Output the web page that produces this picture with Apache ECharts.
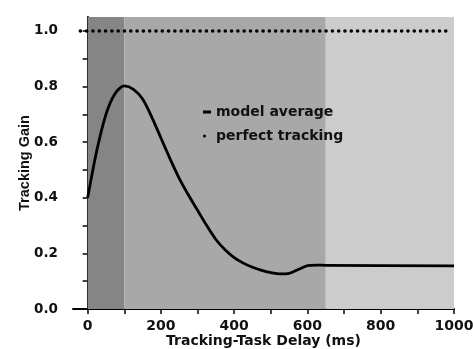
<!DOCTYPE html>
<html lang="en">
<head>
    <meta charset="UTF-8">
    <title>Tracking Gain</title>
    <script src="https://cdn.jsdelivr.net/npm/echarts@6/dist/echarts.min.js"></script>
    <style>
        body { margin: 0; background: #fff; }
    </style>
</head>
<body>
<div id="main" style="width: 473px;height:349px;"></div>
<script type="text/javascript">
    // model average curve (delay ms, gain)
    const delays = [0, 25, 50, 75, 100, 125, 150, 175, 200, 225, 250, 275, 300, 325, 350, 375, 400, 425, 450, 475, 500, 525, 550, 575, 600, 625, 650, 1000]
    const gains = [0.40, 0.57, 0.70, 0.775, 0.802, 0.79, 0.755, 0.69, 0.615, 0.54, 0.47, 0.41, 0.355, 0.30, 0.25, 0.213, 0.185, 0.165, 0.15, 0.139, 0.131, 0.126, 0.128, 0.142, 0.156, 0.158, 0.157, 0.155]
    // perfect tracking reference line
    const perfectX = [-20, 990]
    const perfectY = [1.0, 1.0]
    // shaded delay bands
    const bands = [[0, 100], [100, 650], [650, 1000]]
    const bandColors = ['#858585', '#a8a8a8', '#cccccc']
    const xLabels = [0, 200, 400, 600, 800, 1000]
    const xTicks = [0, 100, 200, 300, 400, 500, 600, 700, 800, 900, 1000]
    const yLabels = [0, 0.2, 0.4, 0.6, 0.8, 1.0]
    const yTicks = [0, 0.1, 0.2, 0.3, 0.4, 0.5, 0.6, 0.7, 0.8, 0.9, 1.0]

    const font = "'DejaVu Sans', sans-serif"
    const fontV = "'Liberation Sans', Arial, sans-serif"

    let myChart = echarts.init(document.getElementById('main'))
    let option = {
        animation: false,
        grid: {left: 73, right: 19, top: 17, bottom: 40, containLabel: false, outerBoundsMode: 'none'},
        legend: [
            {
                data: ['model average'],
                icon: 'rect',
                left: 198, top: 100,
                itemWidth: 8, itemHeight: 3,
                textStyle: {fontFamily: font, fontWeight: 'bold', fontSize: 14, color: '#111'}
            },
            {
                data: ['perfect tracking'],
                icon: 'circle',
                left: 198, top: 124,
                itemWidth: 3, itemHeight: 3,
                textStyle: {fontFamily: font, fontWeight: 'bold', fontSize: 14, color: '#111', padding: [0, 0, 0, 5]}
            }
        ],
        xAxis: {
            type: 'value',
            min: -40, max: 1000,
            name: 'Tracking-Task Delay (ms)',
            nameLocation: 'middle',
            nameGap: 25,
            nameMoveOverlap: false,
            nameTextStyle: {fontFamily: font, fontWeight: 'bold', fontSize: 14, color: '#111'},
            splitLine: {show: false},
            axisLine: {onZero: false, lineStyle: {color: '#000', width: 2}},
            axisTick: {customValues: xTicks, length: 5, lineStyle: {color: '#000', width: 1.5}},
            axisLabel: {
                customValues: xLabels, margin: 10,
                fontFamily: font, fontWeight: 'bold', fontSize: 14, color: '#111',
                formatter: (v) => String(v)
            }
        },
        yAxis: {
            type: 'value',
            min: 0, max: 1.05,
            name: 'Tracking Gain',
            nameLocation: 'middle',
            nameGap: 41,
            nameMoveOverlap: false,
            nameTextStyle: {fontFamily: fontV, fontWeight: 'bold', fontSize: 14.5, color: '#111'},
            splitLine: {show: false},
            axisLine: {show: true, lineStyle: {color: '#000', width: 2}},
            axisTick: {show: true, customValues: yTicks, length: 5, lineStyle: {color: '#000', width: 1.5}},
            axisLabel: {
                customValues: yLabels, margin: 15,
                fontFamily: font, fontWeight: 'bold', fontSize: 13.5, color: '#111',
                formatter: (v) => v.toFixed(1)
            }
        },
        series: [
            {
                name: 'model average',
                type: 'line',
                smooth: 0.3,
                showSymbol: false,
                data: delays.map((d, i) => [d, gains[i]]),
                lineStyle: {color: '#000', width: 2.8},
                itemStyle: {color: '#000'},
                markArea: {
                    silent: true,
                    data: bands.map((b, i) => [
                        {xAxis: b[0], itemStyle: {color: bandColors[i]}},
                        {xAxis: b[1]}
                    ])
                },
                z: 3
            },
            {
                name: 'perfect tracking',
                type: 'line',
                showSymbol: false,
                data: perfectX.map((x, i) => [x, perfectY[i]]),
                lineStyle: {color: '#000', width: 3.5, type: [0.1, 6.2], cap: 'round'},
                itemStyle: {color: '#000'},
                z: 3
            }
        ]
    }
    myChart.setOption(option)
</script>
</body>
</html>
